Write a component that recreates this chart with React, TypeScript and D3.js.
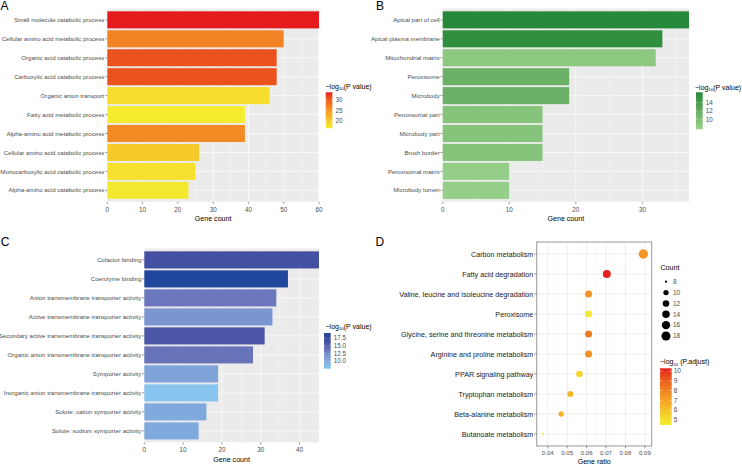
import React from 'react';
import * as d3 from 'd3';

// ---------- Panel A (biological process) ----------
const aCategories = [
  'Small molecule catabolic process',
  'Cellular amino acid metabolic process',
  'Organic acid catabolic process',
  'Carboxylic acid catabolic process',
  'Organic anion transport',
  'Fatty acid metabolic process',
  'Alpha-amino acid metabolic process',
  'Cellular amino acid catabolic process',
  'Monocarboxylic acid catabolic process',
  'Alpha-amino acid catabolic process',
];
const aCounts = [60, 50, 48, 48, 46, 39, 39, 26, 25, 23];
const aLogP = [33.7, 26.8, 30.8, 30.8, 18.0, 16.5, 26.2, 20.0, 17.6, 16.8];
const aTicks = [0, 10, 20, 30, 40, 50, 60];
const aLegendTicks = [20, 25, 30];

// ---------- Panel B (cellular component) ----------
const bCategories = [
  'Apical part of cell',
  'Apical plasma membrane',
  'Mitochondrial matrix',
  'Peroxisome',
  'Microbody',
  'Peroxisomal part',
  'Microbody part',
  'Brush border',
  'Peroxisomal matrix',
  'Microbody lumen',
];
const bCounts = [37, 33, 32, 19, 19, 15, 15, 15, 10, 10];
const bLogP = [16.4, 15.8, 8.9, 11.6, 11.6, 9.4, 9.4, 9.4, 8.2, 8.2];
const bTicks = [0, 10, 20, 30];
const bLegendTicks = [10, 12, 14];

// ---------- Panel C (molecular function) ----------
const cCategories = [
  'Cofactor binding',
  'Coenzyme binding',
  'Anion transmembrane transporter activity',
  'Active transmembrane transporter activity',
  'Secondary active transmembrane transporter activity',
  'Organic anion transmembrane transporter activity',
  'Symporter activity',
  'Inorganic anion transmembrane transporter activity',
  'Solute: cation symporter activity',
  'Solute: sodium symporter activity',
];
const cCounts = [45, 37, 34, 33, 31, 28, 19, 19, 16, 14];
const cLogP = [16.3, 19.0, 13.6, 12.0, 15.8, 13.8, 10.8, 8.0, 10.2, 10.2];
const cTicks = [0, 10, 20, 30, 40];
const cLegendTicks = [10, 12.5, 15, 17.5];

// ---------- Panel D (KEGG) ----------
const dPathways = [
  'Carbon metabolism',
  'Fatty acid degradation',
  'Valine, leucine and isoleucine degradation',
  'Peroxisome',
  'Glycine, serine and threonine metabolism',
  'Arginine and proline metabolism',
  'PPAR signaling pathway',
  'Tryptophan metabolism',
  'Beta-alanine metabolism',
  'Butanoate metabolism',
];
const dGeneRatio = [0.0892, 0.0704, 0.061, 0.061, 0.061, 0.061, 0.0563, 0.0516, 0.0469, 0.0376];
const dCounts = [19, 15, 13, 13, 13, 13, 12, 11, 10, 8];
const dLogPadj = [7.4, 10.2, 7.5, 4.7, 8.3, 7.6, 5.3, 6.4, 6.6, 4.5];
const dTicks = [0.04, 0.05, 0.06, 0.07, 0.08, 0.09];
const dCountLegend = [8, 10, 12, 14, 16, 18];
const dLegendTicks = [5, 6, 7, 8, 9, 10];

const FONT = '"Liberation Sans", Arial, Helvetica, sans-serif';
const AXIS_TEXT = '#4d4d4d';

function makeColor(domain: number[], range: string[]) {
  return d3.scaleLinear<string>().domain(domain).range(range).interpolate(d3.interpolateLab).clamp(true);
}

function LegendTitle({ x, y, label, size }: any) {
  return (
    <text x={x} y={y} fontSize={size} fill="#000" fontFamily={FONT}>
      <tspan>−log</tspan>
      <tspan fontSize={size * 0.62} dy={1.6}>10</tspan>
      <tspan dy={-1.6}>{label}</tspan>
    </text>
  );
}

function ColorBar({ id, x, y0, y1, w, domain, range, ticks, fmt, fontSize, labelGap }: any) {
  const color = makeColor(domain, range);
  const lo = domain[0];
  const hi = domain[domain.length - 1];
  const ys = d3.scaleLinear().domain([lo, hi]).range([y1, y0]);
  const stops = d3.range(31).map((i) => {
    const v = lo + ((hi - lo) * i) / 30;
    return { off: 1 - i / 30, c: color(v) };
  });
  return (
    <g>
      <defs>
        <linearGradient id={id} x1="0" y1="0" x2="0" y2="1">
          {stops
            .slice()
            .sort((a, b) => a.off - b.off)
            .map((s, i) => (
              <stop key={i} offset={s.off} stopColor={s.c} />
            ))}
        </linearGradient>
      </defs>
      <rect x={x} y={y0} width={w} height={y1 - y0} fill={`url(#${id})`} />
      {ticks.map((t: number) => (
        <g key={t}>
          <line x1={x} x2={x + w * 0.2} y1={ys(t)} y2={ys(t)} stroke="#fff" strokeWidth={0.5} />
          <line x1={x + w * 0.8} x2={x + w} y1={ys(t)} y2={ys(t)} stroke="#fff" strokeWidth={0.5} />
          <text x={x + w + labelGap} y={ys(t)} dy="0.35em" fontSize={fontSize} fill={AXIS_TEXT} fontFamily={FONT}>
            {fmt(t)}
          </text>
        </g>
      ))}
    </g>
  );
}

function BarPanel({ cfg }: any) {
  const { left, right, top, bottom, cats, vals, cvals, xMax, ticks, cdomain, crange, legend } = cfg;
  const x = d3.scaleLinear().domain([0, xMax]).range([left, right]);
  const y = d3.scaleBand().domain(cats).range([top, bottom]).paddingInner(0.1).paddingOuter(0.15);
  const color = makeColor(cdomain, crange);
  const minor = d3.range(5, xMax + 0.001, 10);
  const bw = y.bandwidth();
  return (
    <g>
      <rect x={left} y={top} width={right - left} height={bottom - top} fill="#ebebeb" />
      {minor.map((m: number) => (
        <line key={'mn' + m} x1={x(m)} x2={x(m)} y1={top} y2={bottom} stroke="#fff" strokeWidth={0.35} />
      ))}
      {ticks.map((t: number) => (
        <line key={'mj' + t} x1={x(t)} x2={x(t)} y1={top} y2={bottom} stroke="#fff" strokeWidth={0.7} />
      ))}
      {cats.map((c: string) => (
        <line key={'h' + c} x1={left} x2={right} y1={y(c)! + bw / 2} y2={y(c)! + bw / 2} stroke="#fff" strokeWidth={0.7} />
      ))}
      {cats.map((c: string, i: number) => (
        <rect key={'b' + c} x={x(0)} y={y(c)} width={x(vals[i]) - x(0)} height={bw} fill={color(cvals[i])} />
      ))}
      {cats.map((c: string) => (
        <g key={'yl' + c}>
          <line x1={left - 2.2} x2={left} y1={y(c)! + bw / 2} y2={y(c)! + bw / 2} stroke="#333" strokeWidth={0.5} />
          <text
            x={left - 3}
            y={y(c)! + bw / 2}
            dy="0.35em"
            textAnchor="end"
            fontSize={6.1}
            fill={AXIS_TEXT}
            fontFamily={FONT}
          >
            {c}
          </text>
        </g>
      ))}
      {ticks.map((t: number) => (
        <g key={'xl' + t}>
          <line x1={x(t)} x2={x(t)} y1={bottom} y2={bottom + 2.2} stroke="#333" strokeWidth={0.5} />
          <text x={x(t)} y={bottom + 10} textAnchor="middle" fontSize={6.3} fill={AXIS_TEXT} fontFamily={FONT}>
            {t}
          </text>
        </g>
      ))}
      <text x={(left + right) / 2} y={bottom + 19.5} textAnchor="middle" fontSize={7.1} fill="#000" fontFamily={FONT}>
        Gene count
      </text>
      <LegendTitle x={legend.titleX} y={legend.titleY} label="(P value)" size={7} />
      <ColorBar
        id={legend.id}
        x={legend.x}
        y0={legend.y0}
        y1={legend.y1}
        w={legend.w}
        domain={cdomain}
        range={crange}
        ticks={legend.ticks}
        fmt={legend.fmt}
        fontSize={6.3}
        labelGap={3}
      />
    </g>
  );
}

function DotPanel() {
  const left = 536.7,
    right = 651.7,
    top = 242,
    bottom = 446;
  const x = d3.scaleLinear().domain([0.0343, 0.0935]).range([left, right]);
  const y = d3.scalePoint().domain(dPathways).range([top, bottom]).padding(0.6);
  // ggplot-style area scale: radius grows with sqrt of the rescaled count
  const size = d3.scaleSqrt().domain([0, 11]).range([1.1, 4.7]);
  const rr = (c: number) => size(c - 8);
  const cdomain = [4.46, 10.28];
  const crange = ['#f5ee30', '#e41a1c'];
  const color = makeColor(cdomain, crange);
  const minor = d3.range(0.035, 0.0935, 0.01);
  const legY = d3.scaleLinear().domain([0, 5]).range([281.7, 336]);
  return (
    <g>
      <rect x={left} y={top} width={right - left} height={bottom - top} fill="#fff" />
      {minor.map((m: number, i: number) => (
        <line key={'mn' + i} x1={x(m)} x2={x(m)} y1={top} y2={bottom} stroke="#f2f2f2" strokeWidth={0.4} />
      ))}
      {dTicks.map((t) => (
        <line key={'mj' + t} x1={x(t)} x2={x(t)} y1={top} y2={bottom} stroke="#e6e6e6" strokeWidth={0.7} />
      ))}
      {dPathways.map((p) => (
        <line key={'h' + p} x1={left} x2={right} y1={y(p)} y2={y(p)} stroke="#e6e6e6" strokeWidth={0.7} />
      ))}
      {dPathways.map((p, i) => (
        <circle key={'c' + p} cx={x(dGeneRatio[i])} cy={y(p)} r={rr(dCounts[i])} fill={color(dLogPadj[i])} />
      ))}
      <rect x={left} y={top} width={right - left} height={bottom - top} fill="none" stroke="#9a9a9a" strokeWidth={1} />
      {dPathways.map((p) => (
        <g key={'yl' + p}>
          <line x1={left - 2.4} x2={left} y1={y(p)} y2={y(p)} stroke="#333" strokeWidth={0.5} />
          <text x={left - 3.4} y={y(p)} dy="0.35em" textAnchor="end" fontSize={7.2} fill="#1a1a1a" fontFamily={FONT}>
            {p}
          </text>
        </g>
      ))}
      {dTicks.map((t) => (
        <g key={'xl' + t}>
          <line x1={x(t)} x2={x(t)} y1={bottom} y2={bottom + 2.4} stroke="#333" strokeWidth={0.5} />
          <text x={x(t)} y={bottom + 9} textAnchor="middle" fontSize={6.1} fill={AXIS_TEXT} fontFamily={FONT}>
            {d3.format('.2f')(t)}
          </text>
        </g>
      ))}
      <text x={(left + right) / 2} y={bottom + 18} textAnchor="middle" fontSize={7.1} fill="#000" fontFamily={FONT}>
        Gene ratio
      </text>
      {/* size legend */}
      <text x={660.5} y={270} fontSize={7.1} fill="#000" fontFamily={FONT}>
        Count
      </text>
      {dCountLegend.map((c, i) => (
        <g key={'cl' + c}>
          <circle cx={666} cy={legY(i)} r={rr(c)} fill="#000" />
          <text x={673} y={legY(i)} dy="0.35em" fontSize={6.5} fill={AXIS_TEXT} fontFamily={FONT}>
            {c}
          </text>
        </g>
      ))}
      <LegendTitle x={660} y={364} label=" (P.adjust)" size={7} />
      <ColorBar
        id="gradD"
        x={660}
        y0={368.3}
        y1={425}
        w={11.7}
        domain={cdomain}
        range={crange}
        ticks={dLegendTicks}
        fmt={(t: number) => String(t)}
        fontSize={6.5}
        labelGap={2}
      />
    </g>
  );
}

export default function App() {
  const cfgA = {
    left: 107.3,
    right: 319,
    top: 8.5,
    bottom: 201.7,
    cats: aCategories,
    vals: aCounts,
    cvals: aLogP,
    xMax: 60,
    ticks: aTicks,
    cdomain: [16.3, 33.7],
    crange: ['#f5ee30', '#e41a1c'],
    legend: { id: 'gradA', titleX: 325.5, titleY: 88.5, x: 325.7, y0: 92.3, y1: 128.3, w: 6.7, ticks: aLegendTicks, fmt: (t: number) => String(t) },
  };
  const cfgB = {
    left: 442.7,
    right: 689,
    top: 8.5,
    bottom: 201.7,
    cats: bCategories,
    vals: bCounts,
    cvals: bLogP,
    xMax: 37,
    ticks: bTicks,
    cdomain: [7.6, 16.5],
    crange: ['#9dd38e', '#238838'],
    legend: { id: 'gradB', titleX: 695, titleY: 89.5, x: 696, y0: 92.3, y1: 129.3, w: 6.7, ticks: bLegendTicks, fmt: (t: number) => String(t) },
  };
  const cfgC = {
    left: 144.3,
    right: 319,
    top: 248.5,
    bottom: 442.3,
    cats: cCategories,
    vals: cCounts,
    cvals: cLogP,
    xMax: 45,
    ticks: cTicks,
    cdomain: [7.6, 12, 14, 16.5, 19.1],
    crange: ['#88c9f1', '#7a95cf', '#6670b7', '#404ea0', '#1e479b'],
    legend: { id: 'gradC', titleX: 325.5, titleY: 328.5, x: 324, y0: 333, y1: 368.7, w: 6.7, ticks: cLegendTicks, fmt: d3.format('.1f') },
  };
  const letter = (t: string, x: number, y: number) => (
    <text x={x} y={y} fontSize={12} fontFamily={FONT} fill="#000">
      {t}
    </text>
  );
  return (
    <svg width={742} height={466} style={{ position: 'absolute', left: 0, top: 0, background: '#fff' }}>
      <rect x={0} y={0} width={742} height={466} fill="#fff" />
      <BarPanel cfg={cfgA} />
      <BarPanel cfg={cfgB} />
      <BarPanel cfg={cfgC} />
      <DotPanel />
      {letter('A', 0.5, 10.3)}
      {letter('B', 376, 10.3)}
      {letter('C', 0.8, 246)}
      {letter('D', 375.5, 246)}
    </svg>
  );
}
